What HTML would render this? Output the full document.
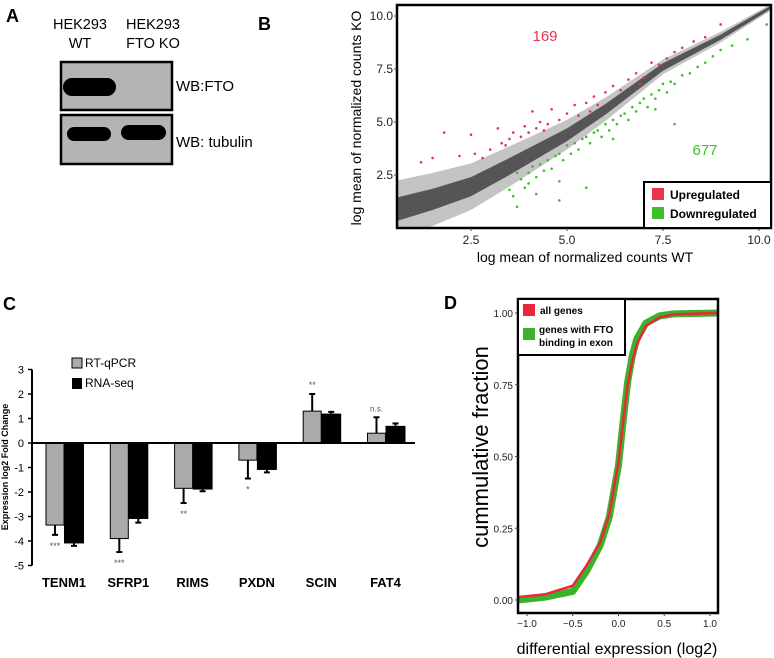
<!DOCTYPE html>
<html><head><meta charset="utf-8"><style>
html,body{margin:0;padding:0;background:#fff;}
svg{display:block;font-family:"Liberation Sans",sans-serif;}
</style></head><body>
<svg id="fig" width="774" height="658" viewBox="0 0 774 658" xmlns="http://www.w3.org/2000/svg">
<!-- Panel A -->
<g>
<text x="6" y="22" font-size="18" font-weight="bold">A</text>
<text x="80" y="29" font-size="14.5" text-anchor="middle">HEK293</text>
<text x="80" y="48" font-size="14.5" text-anchor="middle">WT</text>
<text x="153" y="29" font-size="14.5" text-anchor="middle">HEK293</text>
<text x="153" y="48" font-size="14.5" text-anchor="middle">FTO KO</text>
<rect x="61" y="62" width="111" height="48" fill="#b4b4b4" stroke="#000" stroke-width="2.5"/>
<rect x="61" y="115" width="111" height="49" fill="#b4b4b4" stroke="#000" stroke-width="2.5"/>
<rect x="63" y="78" width="53" height="18" rx="9" fill="#000"/>
<rect x="67" y="127" width="44" height="14" rx="7" fill="#000"/>
<rect x="121" y="125" width="45" height="15" rx="7.5" fill="#000"/>
<text x="176" y="91" font-size="15">WB:FTO</text>
<text x="176" y="147" font-size="15">WB: tubulin</text>
</g>
<!-- Panel B -->
<g id="pb">
<text x="258" y="30" font-size="18" font-weight="bold">B</text>
<text transform="translate(361,118) rotate(-90)" font-size="14" text-anchor="middle">log mean of normalized counts KO</text>
<text x="585" y="262" font-size="14" text-anchor="middle">log mean of normalized counts WT</text>
</g>
<!-- Panel C -->
<g id="pc">
<text x="3" y="310" font-size="18" font-weight="bold">C</text>
<text transform="translate(8,467) rotate(-90)" font-size="9" font-weight="bold" text-anchor="middle">Expression log2 Fold Change</text>
<rect x="72" y="358" width="10" height="10" fill="#aaa" stroke="#000" stroke-width="1"/>
<text x="85" y="367" font-size="12">RT-qPCR</text>
<rect x="72" y="378" width="10" height="11" fill="#000"/>
<text x="85" y="387" font-size="12">RNA-seq</text>
</g>
<!-- Panel D -->
<g id="pd">
<text x="444" y="309" font-size="18" font-weight="bold">D</text>
<text transform="translate(488,447) rotate(-90)" font-size="22" text-anchor="middle">cummulative fraction</text>
<text x="617" y="654" font-size="16" text-anchor="middle">differential expression (log2)</text>
</g>
</svg>
<script>
const NS="http://www.w3.org/2000/svg";
function mk(parent,tag,attrs){const e=document.createElementNS(NS,tag);for(const k in attrs)e.setAttribute(k,attrs[k]);parent.appendChild(e);return e;}

// ---------- Panel B data ----------
const bXTicks=[2.5,5.0,7.5,10.0];
const bYTicks=[2.5,5.0,7.5,10.0];
const bandX=[0.6,1.5,2.5,3.5,5.0,6.0,7.5,9.0,10.3];
const bandCenter=[0.9,1.35,1.95,2.9,4.4,5.6,7.6,9.0,10.4];
const bandOuter=[1.35,1.25,1.1,0.95,0.7,0.55,0.35,0.25,0.15];
const bandInner=[0.55,0.5,0.45,0.4,0.3,0.25,0.18,0.12,0.08];
const upX=[1.2,1.5,1.8,2.2,2.5,2.6,2.8,3.0,3.2,3.3,3.5,3.6,3.8,3.9,4.0,4.1,4.2,4.3,4.5,4.6,4.8,5.0,5.2,5.3,5.5,5.7,5.8,6.0,6.2,6.4,6.6,6.8,7.0,7.2,7.4,7.6,7.8,8.0,8.3,8.6,9.0,3.4,4.4,5.6,6.9];
const upY=[3.1,3.3,4.5,3.4,4.4,3.5,3.3,3.7,4.7,4.0,4.2,4.5,4.3,4.8,4.5,5.5,4.7,5.0,4.9,5.6,5.1,5.4,5.8,5.3,5.9,6.2,5.8,6.4,6.7,6.5,7.0,7.3,7.1,7.8,7.7,8.0,8.3,8.5,8.8,9.0,9.6,3.9,4.6,5.5,6.8];
const dnX=[3.5,3.6,3.7,3.8,3.9,4.0,4.0,4.1,4.2,4.3,4.4,4.5,4.6,4.7,4.8,4.8,4.9,5.0,5.1,5.2,5.3,5.4,5.5,5.6,5.7,5.8,5.9,6.0,6.1,6.2,6.3,6.4,6.5,6.6,6.7,6.8,6.9,7.0,7.1,7.2,7.3,7.4,7.5,7.6,7.7,7.8,8.0,8.2,8.4,8.6,8.8,9.0,9.3,9.7,10.2,4.8,5.5,7.8,7.3,3.7,4.2,6.2];
const dnY=[1.8,1.5,1.0,2.3,1.9,2.6,2.1,2.9,2.4,3.0,2.7,3.2,2.8,3.4,3.5,2.2,3.2,3.9,3.5,4.0,3.7,4.2,4.3,4.0,4.5,4.6,4.3,4.9,4.6,5.1,4.9,5.3,5.4,5.1,5.7,5.5,5.9,6.1,5.7,6.3,6.1,6.5,6.8,6.4,6.9,6.8,7.2,7.3,7.6,7.8,8.1,8.4,8.6,8.9,9.6,1.3,1.9,4.9,5.6,2.6,1.6,4.2];
const upCount="169", dnCount="677";

(function(){
const g=document.getElementById('pb');
const X0=397,X1=771,Y0=5,Y1=228;
const bx=v=>375+v*38.4, by=v=>228-v*21.2;
const clip=mk(g,'clipPath',{id:'bclip'});mk(clip,'rect',{x:X0,y:Y0,width:X1-X0,height:Y1-Y0});
const layer=mk(g,'g',{'clip-path':'url(#bclip)'});
function band(hw,fill,name){
  let pts=[];
  for(let i=0;i<bandX.length;i++)pts.push(bx(bandX[i])+','+by(bandCenter[i]+hw[i]));
  for(let i=bandX.length-1;i>=0;i--)pts.push(bx(bandX[i])+','+by(bandCenter[i]-hw[i]));
  const p=mk(layer,'polygon',{points:pts.join(' '),fill:fill});
  
  
}
band(bandOuter,'#c4c4c4','gray-band-outer');
band(bandInner,'#555555','gray-band-inner');
for(let i=0;i<upX.length;i++){const c=mk(layer,'circle',{cx:bx(upX[i]),cy:by(upY[i]),r:1.3,fill:'#e8344e'});

}
for(let i=0;i<dnX.length;i++){const c=mk(layer,'circle',{cx:bx(dnX[i]),cy:by(dnY[i]),r:1.3,fill:'#3cbf2a'});

}
const fr=mk(g,'rect',{x:X0,y:Y0,width:X1-X0,height:Y1-Y0,fill:'none',stroke:'#000','stroke-width':2.5});


bXTicks.forEach(v=>{mk(g,'line',{x1:bx(v),x2:bx(v),y1:Y1,y2:Y1+3,stroke:'#444'});
 const t=mk(g,'text',{x:bx(v),y:Y1+16,'font-size':12,'text-anchor':'middle',fill:'#222'});t.textContent=v.toFixed(1);
 
 });
bYTicks.forEach(v=>{mk(g,'line',{x1:X0-3,x2:X0,y1:by(v),y2:by(v),stroke:'#444'});
 const t=mk(g,'text',{x:X0-4,y:by(v)+4,'font-size':12,'text-anchor':'end',fill:'#222'});t.textContent=v.toFixed(1);
 
 });
let t=mk(g,'text',{x:545,y:41,'font-size':15,fill:'#e8344e','text-anchor':'middle'});t.textContent=upCount;


t=mk(g,'text',{x:705,y:155,'font-size':15,fill:'#3cbf2a','text-anchor':'middle'});t.textContent=dnCount;


const lg=mk(g,'rect',{x:644,y:182,width:127,height:46,fill:'#fff',stroke:'#000','stroke-width':2});


mk(g,'rect',{x:652,y:188,width:12,height:12,fill:'#e8344e'});
mk(g,'rect',{x:652,y:207,width:12,height:12,fill:'#3cbf2a'});
t=mk(g,'text',{x:670,y:199,'font-size':12,'font-weight':'bold'});t.textContent='Upregulated';


t=mk(g,'text',{x:670,y:218,'font-size':12,'font-weight':'bold'});t.textContent='Downregulated';


})();

// ---------- Panel C data ----------
const genes=['TENM1','SFRP1','RIMS','PXDN','SCIN','FAT4'];
const qpcr=[-3.35,-3.9,-1.85,-0.7,1.3,0.4];
const qpcrErr=[0.4,0.55,0.6,0.75,0.7,0.65];
const rnaseq=[-4.1,-3.1,-1.9,-1.1,1.2,0.7];
const rnaseqErr=[0.1,0.15,0.07,0.1,0.07,0.1];
const sig=['***','***','**','*','**','n.s.'];
const cTicks=[3,2,1,0,-1,-2,-3,-4,-5];

(function(){
const g=document.getElementById('pc');
const cy=v=>443-v*24.5;
const cx=i=>64+i*64.3;
mk(g,'line',{x1:32,x2:32,y1:cy(3),y2:cy(-5),stroke:'#000','stroke-width':2});
cTicks.forEach(v=>{mk(g,'line',{x1:28,x2:32,y1:cy(v),y2:cy(v),stroke:'#000','stroke-width':1.5});
 const t=mk(g,'text',{x:24,y:cy(v)+4,'font-size':11,'text-anchor':'end'});t.textContent=String(v);
 
 });
genes.forEach((gn,i)=>{
 const c=cx(i);
 let y0=cy(0),y1=cy(qpcr[i]);
 let r=mk(g,'rect',{x:c-18,y:Math.min(y0,y1),width:18,height:Math.abs(y1-y0),fill:'#aaa',stroke:'#000','stroke-width':1});
 
 
 const sg=Math.sign(qpcr[i]);
 const ye=cy(qpcr[i]+sg*qpcrErr[i]);
 mk(g,'line',{x1:c-9,x2:c-9,y1:y1,y2:ye,stroke:'#000','stroke-width':2});
 mk(g,'line',{x1:c-12,x2:c-6,y1:ye,y2:ye,stroke:'#000','stroke-width':2});
 y1=cy(rnaseq[i]);
 r=mk(g,'rect',{x:c,y:Math.min(y0,y1),width:20,height:Math.abs(y1-y0),fill:'#000'});
 
 
 const sb=Math.sign(rnaseq[i]);
 const yb=cy(rnaseq[i]+sb*rnaseqErr[i]);
 mk(g,'line',{x1:c+10,x2:c+10,y1:y1,y2:yb,stroke:'#000','stroke-width':2});
 mk(g,'line',{x1:c+7,x2:c+13,y1:yb,y2:yb,stroke:'#000','stroke-width':2});
 const sy = qpcr[i]<0 ? cy(qpcr[i]-qpcrErr[i])+14 : cy(qpcr[i]+qpcrErr[i])-6;
 let t=mk(g,'text',{x:c-9,y:sy,'font-size':sig[i]=='n.s.'?8:9,'text-anchor':'middle',fill:'#555'});t.textContent=sig[i];
 
 
 t=mk(g,'text',{x:c,y:587,'font-size':13,'font-weight':'bold','text-anchor':'middle'});t.textContent=gn;
 
 
});
const z=mk(g,'line',{x1:32,x2:415,y1:cy(0),y2:cy(0),stroke:'#000','stroke-width':2});


})();

// ---------- Panel D data ----------
const dXTicks=[-1.0,-0.5,0.0,0.5,1.0];
const dYTicks=[0.00,0.25,0.50,0.75,1.00];
const allX=[-1.1,-0.8,-0.5,-0.35,-0.2,-0.1,0.0,0.05,0.1,0.15,0.2,0.3,0.45,0.6,1.1];
const allY=[0.01,0.02,0.05,0.12,0.2,0.3,0.48,0.62,0.75,0.83,0.89,0.955,0.985,0.995,1.0];
const ftoX=[-1.1,-0.8,-0.5,-0.35,-0.2,-0.1,0.0,0.05,0.1,0.15,0.2,0.3,0.45,0.6,1.1];
const ftoY=[0.0,0.01,0.03,0.1,0.19,0.29,0.47,0.62,0.76,0.85,0.91,0.965,0.99,0.997,1.0];

(function(){
const g=document.getElementById('pd');
const X0=518,X1=718,Y0=299,Y1=613;
const dx=v=>618.5+v*91.5, dy=v=>600-v*287;
const clip=mk(g,'clipPath',{id:'dclip'});mk(clip,'rect',{x:X0,y:Y0,width:X1-X0,height:Y1-Y0});
const layer=mk(g,'g',{'clip-path':'url(#dclip)'});
function line(xs,ys,col,w,name){
 const p=mk(layer,'polyline',{points:xs.map((x,i)=>dx(x)+','+dy(ys[i])).join(' '),fill:'none',stroke:col,'stroke-width':w,'stroke-linejoin':'round'});
 
 
}
line(ftoX,ftoY,'#3cb22a',7,'line-fto-binding-genes');
line(allX,allY,'#e8283a',2.5,'line-all-genes');
const fr=mk(g,'rect',{x:X0,y:Y0,width:X1-X0,height:Y1-Y0,fill:'none',stroke:'#000','stroke-width':2.5});


dXTicks.forEach(v=>{mk(g,'line',{x1:dx(v),x2:dx(v),y1:Y1,y2:Y1+3,stroke:'#444'});
 const t=mk(g,'text',{x:dx(v),y:Y1+14,'font-size':10,'text-anchor':'middle',fill:'#222'});t.textContent=(v<0?'\u2212':'')+Math.abs(v).toFixed(1);
 
 });
dYTicks.forEach(v=>{mk(g,'line',{x1:X0-3,x2:X0,y1:dy(v),y2:dy(v),stroke:'#444'});
 const t=mk(g,'text',{x:X0-5,y:dy(v)+4,'font-size':10,'text-anchor':'end',fill:'#222'});t.textContent=v.toFixed(2);
 
 });
const lg=mk(g,'rect',{x:X0,y:Y0,width:107,height:56,fill:'#fff',stroke:'#000','stroke-width':2});


mk(g,'rect',{x:523,y:304,width:12,height:12,fill:'#e8283a'});
mk(g,'rect',{x:523,y:328,width:12,height:12,fill:'#3cb22a'});
let t=mk(g,'text',{x:540,y:314,'font-size':10,'font-weight':'bold'});t.textContent='all genes';


t=mk(g,'text',{x:539,y:333,'font-size':10,'font-weight':'bold'});t.textContent='genes with FTO';


t=mk(g,'text',{x:539,y:346,'font-size':10,'font-weight':'bold'});t.textContent='binding in exon';


})();
</script>
</body></html>
